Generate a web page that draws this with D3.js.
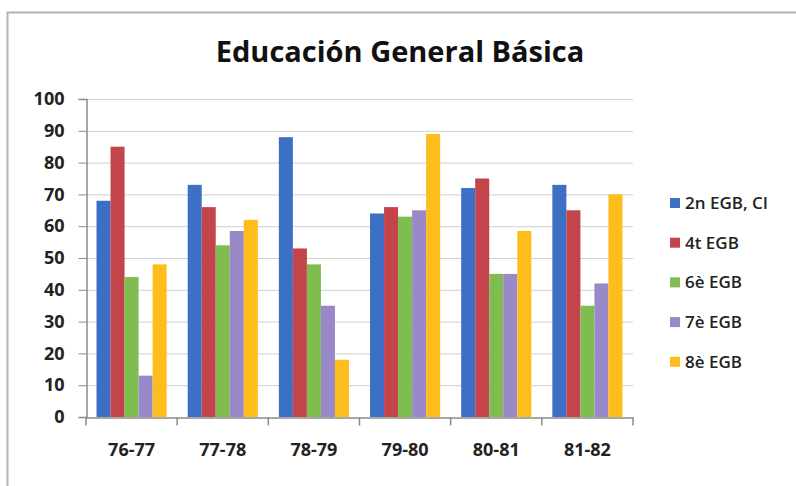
<!DOCTYPE html>
<html>
<head>
<meta charset="utf-8">
<script src="https://cdn.jsdelivr.net/npm/d3@7"></script>
<style>
  body { margin: 0; background: #fff; }
  text { font-family: "Open Sans", "DejaVu Sans", sans-serif; }
</style>
</head>
<body>
<div id="chart"></div>
<script>
var years = ["76-77", "77-78", "78-79", "79-80", "80-81", "81-82"];
var seriesNames = ["2n EGB, CI", "4t EGB", "6è EGB", "7è EGB", "8è EGB"];
var egb2 = [68, 73, 88, 64, 72, 73];
var egb4 = [85, 66, 53, 66, 75, 65];
var egb6 = [44, 54, 48, 63, 45, 35];
var egb7 = [13, 58.5, 35, 65, 45, 42];
var egb8 = [48, 62, 18, 89, 58.5, 70];
var yTicks = [0, 10, 20, 30, 40, 50, 60, 70, 80, 90, 100];
var colors = ["#3d6fc4", "#c3444b", "#80bd50", "#9a89c9", "#fdbd1c"];

var allSeries = [egb2, egb4, egb6, egb7, egb8];

var svg = d3.select("#chart")
    .append("svg")
    .attr("width", 796)
    .attr("height", 486);

// outer frame (left and top edges visible)
svg.append("path")
    .attr("d", "M7.5,486 L7.5,12.5 L796,12.5")
    .attr("fill", "none")
    .attr("stroke", "#b4b4b4")
    .attr("stroke-width", 2);

svg.append("text")
    .attr("x", 400)
    .attr("y", 62)
    .attr("text-anchor", "middle")
    .style("font-size", "29px")
    .style("font-weight", "bold")
    .attr("fill", "#111")
    .text("Educación General Básica");

var x = d3.scaleBand().domain(years).range([86, 633]);
var y = d3.scaleLinear().domain([0, 100]).range([417, 99]);

// gridlines
svg.selectAll(".grid")
    .data(yTicks.filter((d) => d > 0))
    .enter()
    .append("line")
    .attr("x1", 86)
    .attr("x2", 633)
    .attr("y1", (d) => y(d) + 0.5)
    .attr("y2", (d) => y(d) + 0.5)
    .attr("stroke", "#cfcfcf")
    .attr("stroke-width", 1);

// bars: gap width 150%
var barW = x.bandwidth() / 6.5;
var inner = d3.scaleBand().domain(d3.range(5)).range([0, barW * 5]);

var groups = svg.selectAll(".grp")
    .data(years)
    .enter()
    .append("g")
    .attr("transform", (d) => "translate(" + (x(d) + barW * 0.75) + ",0)");

groups.selectAll("rect")
    .data((d, i) => allSeries.map((s, k) => ({ k: k, v: s[i] })))
    .enter()
    .append("rect")
    .attr("x", (d) => inner(d.k))
    .attr("width", inner.bandwidth())
    .attr("y", (d) => y(d.v))
    .attr("height", (d) => y(0) - y(d.v))
    .attr("fill", (d) => colors[d.k]);

// y axis
var yAxis = svg.append("g")
    .attr("transform", "translate(86.5,0)")
    .call(d3.axisLeft(y).tickValues(yTicks).tickSize(8).tickPadding(14));
yAxis.select(".domain").attr("stroke", "#8a8a8a").attr("stroke-width", 1.5);
yAxis.selectAll(".tick line").attr("stroke", "#8a8a8a");
yAxis.selectAll(".tick text")
    .style("font-size", "18px")
    .style("font-weight", "bold")
    .style("font-family", "'Open Sans', sans-serif")
    .attr("fill", "#222");

// x axis
var xAxis = svg.append("g")
    .attr("transform", "translate(0,417.5)")
    .call(d3.axisBottom(x).tickSize(0).tickPadding(26));
xAxis.select(".domain").attr("stroke", "#8a8a8a").attr("stroke-width", 1.5);
xAxis.selectAll(".tick text")
    .style("font-size", "18px")
    .style("font-weight", "bold")
    .style("font-family", "'Open Sans', sans-serif")
    .attr("fill", "#222");
xAxis.selectAll(".sep")
    .data(years.map((d) => x(d)).concat([x(years[years.length - 1]) + x.bandwidth()]))
    .enter()
    .append("line")
    .attr("x1", (d) => d)
    .attr("x2", (d) => d)
    .attr("y1", 0)
    .attr("y2", 8)
    .attr("stroke", "#8a8a8a")
    .attr("stroke-width", 1.5);

// legend
var legend = svg.selectAll(".legend")
    .data(seriesNames)
    .enter()
    .append("g")
    .attr("transform", (d, i) => "translate(670," + (203 + i * 39.7) + ")");
legend.append("rect")
    .attr("x", 0)
    .attr("y", -5)
    .attr("width", 10)
    .attr("height", 10)
    .attr("fill", (d, i) => colors[i]);
legend.append("text")
    .attr("x", 15)
    .attr("y", 0)
    .attr("dy", "0.35em")
    .style("font-size", "17px")
    .style("font-weight", "600")
    .attr("fill", "#222")
    .text((d) => d);
</script>
</body>
</html>
